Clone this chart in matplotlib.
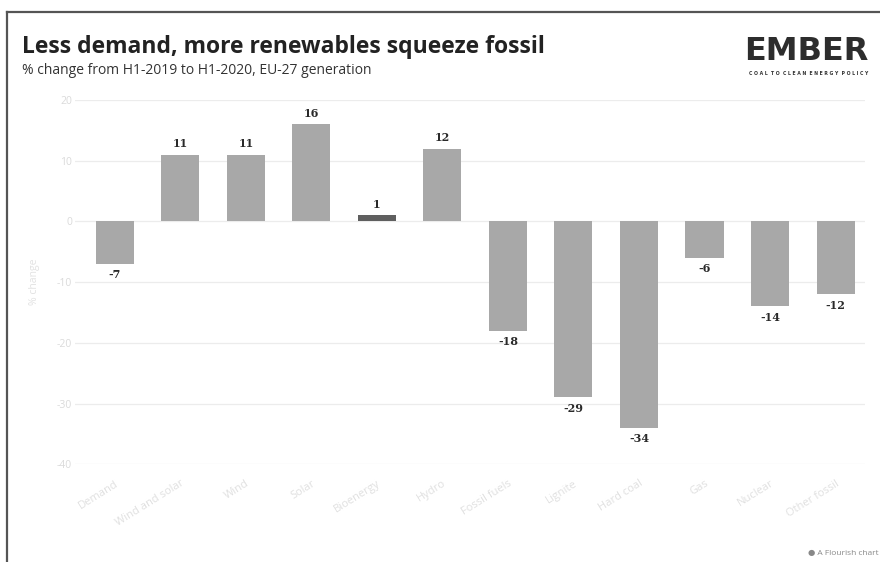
import matplotlib.pyplot as plt

# H1-2019 -> H1-2020 change in EU-27 generation, by source
sources = ["Demand", "Wind and solar", "Wind", "Solar", "Bioenergy", "Hydro",
           "Fossil fuels", "Lignite", "Hard coal", "Gas", "Nuclear", "Other fossil"]
pct_change = [-7, 11, 11, 16, 1, 12, -18, -29, -34, -6, -14, -12]
y_ticks = [20, 10, 0, -10, -20, -30, -40]

plt.rcParams['font.family'] = ['Open Sans', 'DejaVu Sans']

fig = plt.figure(figsize=(8.8, 5.62), dpi=100)
fig.patch.set_facecolor('white')

# thin frame on the top and left edges
fig.add_artist(plt.Line2D([0.008, 0.008], [0.0, 0.979], color='#555555', lw=1.6,
                          transform=fig.transFigure))
fig.add_artist(plt.Line2D([0.008, 1.0], [0.979, 0.979], color='#555555', lw=1.6,
                          transform=fig.transFigure))

ax = fig.add_axes([0.085, 0.174, 0.898, 0.648])
x = list(range(len(sources)))
colors = ['#5f5f5f' if abs(v) < 2 else '#a8a8a8' for v in pct_change]
bars = ax.bar(x, pct_change, width=0.58, color=colors, zorder=3)

for rect, v in zip(bars, pct_change):
    cx = rect.get_x() + rect.get_width() / 2
    if v >= 0:
        ax.annotate(str(v), (cx, v), xytext=(0, 4), textcoords='offset points',
                    ha='center', va='bottom', fontsize=8, fontweight='bold',
                    color='#2a2a2a', family='DejaVu Serif')
    else:
        ax.annotate(str(v), (cx, v), xytext=(0, -4), textcoords='offset points',
                    ha='center', va='top', fontsize=8, fontweight='bold',
                    color='#2a2a2a', family='DejaVu Serif')

ax.set_xlim(-0.61, 11.45)
ax.set_ylim(-40, 20)
ax.set_yticks(y_ticks)
ax.set_yticklabels([str(t) for t in y_ticks], color='#dadada', fontsize=7.5)
ax.set_xticks(x)
ax.set_xticklabels(sources, rotation=32, ha='right', rotation_mode='anchor',
                   color='#e0e0e0', fontsize=8)
ax.tick_params(axis='y', length=0, pad=2)
ax.tick_params(axis='x', length=0, pad=10)
ax.set_ylabel('% change', color='#e2e2e2', fontsize=7.5, labelpad=12)
ax.grid(axis='y', color='#ececec', lw=0.9, zorder=0)
for s in ax.spines.values():
    s.set_visible(False)

fig.text(0.025, 0.905, 'Less demand, more renewables squeeze fossil', fontsize=16.5,
         fontweight='bold', color='#222222', va='baseline')
fig.text(0.025, 0.868, '% change from H1-2019 to H1-2020, EU-27 generation',
         fontsize=10, color='#333333', va='baseline')

# logo
fig.text(0.9865, 0.893, 'EMBER', fontsize=23, fontweight='heavy', color='#2d2d2d',
         ha='right', va='baseline', family='DejaVu Sans')
fig.text(0.9865, 0.867, 'C O A L  T O  C L E A N  E N E R G Y  P O L I C Y', fontsize=3.3,
         fontweight='bold', color='#333333', ha='right', va='baseline',
         family='DejaVu Sans')

fig.text(0.998, 0.012, '\u25cf A Flourish chart', fontsize=6, color='#888888',
         ha='right', va='baseline')

fig.savefig('out.png', dpi=100, facecolor='white')
